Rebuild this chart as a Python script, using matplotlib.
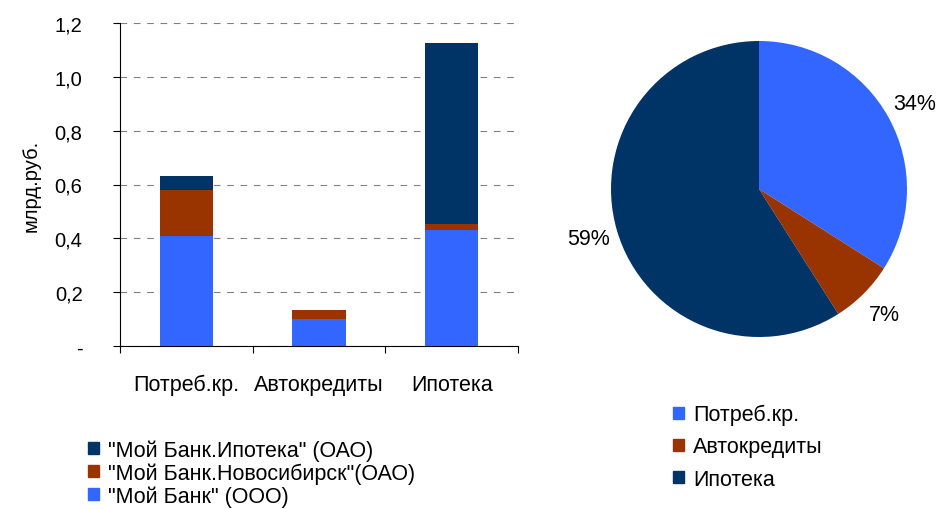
import matplotlib
matplotlib.use("Agg")
import matplotlib.pyplot as plt
from matplotlib.patches import Patch
import numpy as np

plt.rcParams['font.family'] = ['Liberation Sans', 'DejaVu Sans']
plt.rcParams['font.size'] = 14

categories = ["Потреб.кр.", "Автокредиты", "Ипотека"]
series_names = ['"Мой Банк" (ООО)', '"Мой Банк.Новосибирск"(ОАО)', '"Мой Банк.Ипотека" (ОАО)']
moy_bank = [0.41, 0.10, 0.43]
novosib = [0.17, 0.034, 0.023]
ipoteka = [0.05, 0.0, 0.672]
pie_values = [34, 7, 59]
colors = ["#3366FF", "#993300", "#003366"]
yticks = [0, 0.2, 0.4, 0.6, 0.8, 1.0, 1.2]
ytick_labels = ["-", "0,2", "0,4", "0,6", "0,8", "1,0", "1,2"]

W, H = 947, 510
fig = plt.figure(figsize=(W / 100, H / 100), dpi=100)

# Bar chart
ax = fig.add_axes([120 / W, 1 - 347 / H, 398 / W, 323 / H])
x = np.arange(len(categories))
series = [moy_bank, novosib, ipoteka]
bottom = np.zeros(len(categories))
for vals, c in zip(series, colors):
    ax.bar(x, vals, width=0.4, bottom=bottom, color=c, zorder=3)
    bottom += np.array(vals)
ax.set_xlim(-0.5, len(categories) - 0.5)
ax.set_ylim(0, 1.2)
ax.set_yticks(yticks)
ax.set_yticklabels(ytick_labels, fontsize=14.5)
ax.set_xticks(np.arange(len(categories) + 1) - 0.5)
ax.set_xticklabels([])
ax.set_xticks(x, minor=True)
ax.set_xticklabels(categories, minor=True, fontsize=15.5)
ax.tick_params(axis='x', which='major', length=5, direction='out')
ax.tick_params(axis='x', which='minor', length=0, pad=20)
ax.tick_params(axis='y', length=5, direction='out', pad=22)
ax.yaxis.grid(True, linestyle=(0, (6, 6)), color="#808080", linewidth=0.8, zorder=0)
for s in ['top', 'right']:
    ax.spines[s].set_visible(False)
ax.set_ylabel("млрд.руб.", labelpad=10, fontsize=14.5)

# Pie chart
R = 148
pax = fig.add_axes([(759 - R) / W, 1 - (190 + R) / H, 2 * R / W, 2 * R / H])
pax.pie(pie_values, colors=colors, startangle=90, counterclock=False,
        autopct=lambda p: f"{p:.0f}%", pctdistance=1.2, radius=1,
        textprops={'fontsize': 15.5})
pax.set_xlim(-1, 1)
pax.set_ylim(-1, 1)
pax.set_aspect('equal')
pax.axis('off')

# Legends
handles_bar = [Patch(color=colors[i]) for i in [2, 1, 0]]
labels_bar = [series_names[i] for i in [2, 1, 0]]
fig.legend(handles_bar, labels_bar, loc='upper left', bbox_to_anchor=(88 / W, 1 - 440 / H),
           frameon=False, handlelength=0.5, handleheight=0.5, handletextpad=0.45,
           labelspacing=0.08, borderpad=0, borderaxespad=0, prop={'size': 15.5})

handles_pie = [Patch(color=c) for c in colors]
fig.legend(handles_pie, categories, loc='upper left', bbox_to_anchor=(673 / W, 1 - 405 / H),
           frameon=False, handlelength=0.5, handleheight=0.5, handletextpad=0.45,
           labelspacing=0.52, borderpad=0, borderaxespad=0, prop={'size': 15.5})

fig.savefig("out.png", dpi=100)
